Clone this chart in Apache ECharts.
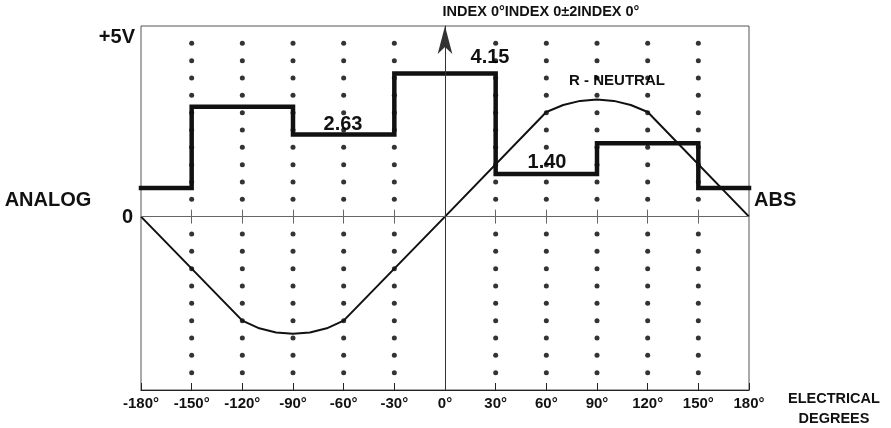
<!DOCTYPE html>
<html>
<head>
<meta charset="utf-8">
<script src="https://cdn.jsdelivr.net/npm/echarts@6/dist/echarts.min.js"></script>
<style>
html,body{margin:0;padding:0;background:#fff;}
#c{width:891px;height:428px;}
</style>
</head>
<body>
<div id="c"></div>
<script>
// ---- data ----
const stepEdges = [-180, -150, -90, -30, 30, 90, 150, 180];
const stepLevels = [0.83, 3.17, 2.37, 4.13, 1.23, 2.12, 0.83];
const curveX = [-180, -120, -110, -100, -90, -80, -70, -60, 0, 60, 70, 80, 90, 100, 110, 120, 180];
const curveY = [0, -3.0, -3.22, -3.34, -3.38, -3.34, -3.22, -3.0, 0, 3.02, 3.22, 3.34, 3.38, 3.34, 3.22, 3.02, 0];
const dotColumns = [-150, -120, -90, -60, -30, 30, 60, 90, 120, 150];
const dotLevels = [-4.5, -4, -3.5, -3, -2.5, -2, -1.5, -1, -0.5, 0.5, 1, 1.5, 2, 2.5, 3, 3.5, 4, 4.5, 5];
const tickLabels = ['-180°','-150°','-120°','-90°','-60°','-30°','0°','30°','60°','90°','120°','150°','180°'];
const valueLabels = ['4.15', '2.63', '1.40'];

// ---- build ----
const stepData = [];
for (let i = 0; i < stepLevels.length; i++) {
  stepData.push([stepEdges[i], stepLevels[i]]);
  stepData.push([stepEdges[i + 1], stepLevels[i]]);
}
const curveData = curveX.map((x, i) => [x, curveY[i]]);
const dotData = [];
dotColumns.forEach(x => dotLevels.forEach(y => dotData.push([x, y])));
const zeroTicks = dotColumns.map(x => [{coord: [x, -0.2]}, {coord: [x, 0.2]}]);

const FF = '"Liberation Sans", Arial, sans-serif';
const txt = (x, y, text, size, align) => ({
  type: 'text', x: x, y: y,
  style: {text: text, fill: '#111', font: 'bold ' + size + 'px ' + FF, textAlign: align || 'center', textVerticalAlign: 'middle'}
});

const chart = echarts.init(document.getElementById('c'), null, {renderer: 'canvas'});
chart.setOption({
  animation: false,
  backgroundColor: '#fff',
  grid: {left: 141, right: 142, top: 26, bottom: 38, show: true, borderColor: '#555', borderWidth: 1},
  xAxis: {
    type: 'value', min: -180, max: 180, interval: 30, position: 'bottom',
    axisLine: {show: true, onZero: false, lineStyle: {color: '#222', width: 1.2}},
    axisTick: {show: true, inside: true, length: 7, lineStyle: {color: '#222', width: 1}},
    axisLabel: {
      margin: 6, color: '#111', fontFamily: FF, fontWeight: 'bold', fontSize: 15,
      formatter: v => tickLabels[Math.round((v + 180) / 30)]
    },
    splitLine: {show: false}
  },
  yAxis: {
    type: 'value', min: -5, max: 5.5,
    axisLine: {show: true, lineStyle: {color: '#555'}},
    axisTick: {show: false}, axisLabel: {show: false}, splitLine: {show: false}
  },
  series: [
    {
      type: 'scatter', data: dotData, symbol: 'circle', symbolSize: 5,
      itemStyle: {color: '#000'}, silent: true, z: 1
    },
    {
      type: 'line', data: [], silent: true, z: 2,
      markLine: {
        silent: true, symbol: 'none', label: {show: false},
        lineStyle: {color: '#666', width: 1, type: 'solid'},
        data: [[{coord: [-180, 0]}, {coord: [180, 0]}]].concat(zeroTicks)
      }
    },
    {
      type: 'line', data: [], silent: true, z: 2,
      markLine: {
        silent: true, symbol: ['none', 'arrow'], symbolSize: [11, 28], label: {show: false},
        lineStyle: {color: '#333', width: 1, type: 'solid'},
        data: [[{coord: [0, -5]}, {coord: [0, 5.5]}]]
      }
    },
    {
      type: 'line', data: curveData, showSymbol: false, silent: true, z: 3,
      lineStyle: {color: '#111', width: 2}
    },
    {
      type: 'line', data: stepData, showSymbol: false, silent: true, z: 4,
      lineStyle: {color: '#111', width: 4.5, join: 'miter', cap: 'square'}
    }
  ],
  graphic: [
    txt(135, 37, '+5V', 20, 'right'),
    txt(48, 200, 'ANALOG', 20, 'center'),
    txt(133, 217, '0', 20, 'right'),
    txt(754, 200, 'ABS', 20, 'left'),
    txt(541, 12, 'INDEX 0°INDEX 0±2INDEX 0°', 14.5, 'center'),
    txt(490, 57.5, valueLabels[0], 20, 'center'),
    txt(343, 124, valueLabels[1], 20, 'center'),
    txt(547, 162.5, valueLabels[2], 20, 'center'),
    txt(617, 81, 'R - NEUTRAL', 15, 'center'),
    txt(834, 399, 'ELECTRICAL', 14.5, 'center'),
    txt(834, 418.5, 'DEGREES', 14.5, 'center')
  ]
});
</script>
</body>
</html>
